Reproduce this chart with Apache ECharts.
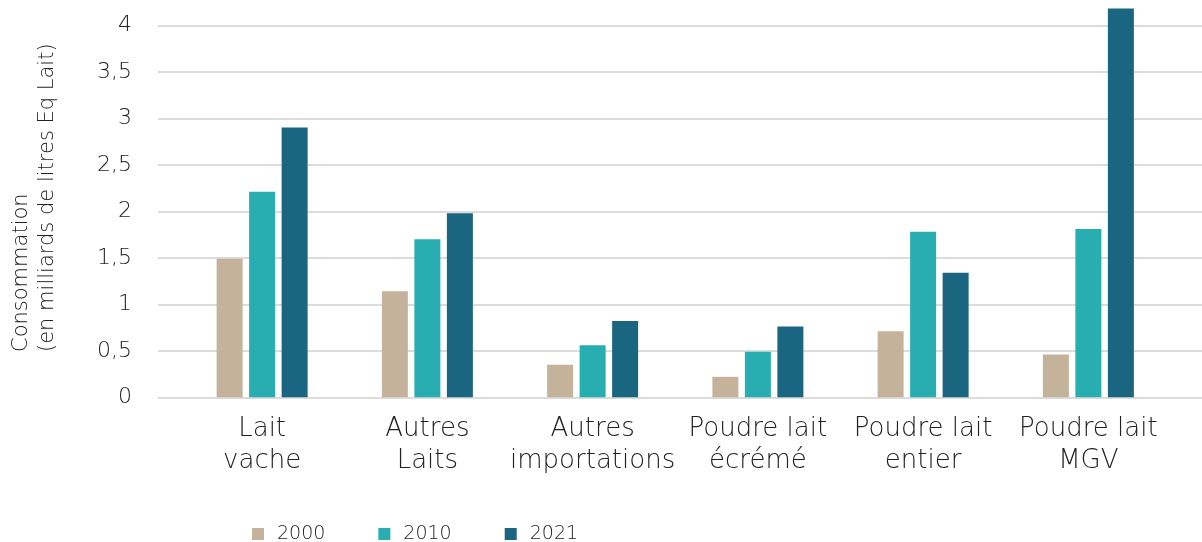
<!DOCTYPE html>
<html>
<head>
<meta charset="utf-8">
<script src="https://cdn.jsdelivr.net/npm/echarts@6/dist/echarts.min.js"></script>
<style>
  html, body { margin: 0; padding: 0; background: #fff; }
  #chart { width: 1202px; height: 542px; }
</style>
</head>
<body>
<div id="chart"></div>
<script>
// catégories et valeurs (milliards de litres Eq Lait)
const categories = ["Lait\nvache", "Autres\nLaits", "Autres\nimportations", "Poudre lait\nécrémé", "Poudre lait\nentier", "Poudre lait\nMGV"];
const years = ["2000", "2010", "2021"];
const values2000 = [1.49, 1.14, 0.35, 0.22, 0.71, 0.46];
const values2010 = [2.21, 1.70, 0.56, 0.49, 1.78, 1.81];
const values2021 = [2.90, 1.98, 0.82, 0.76, 1.34, 4.18];
const colors = ["#C4B39A", "#28AEB0", "#1A6680"];

const font = "DejaVu Sans";
const weight = 200; // ExtraLight
const yMax = 4.2;

const chart = echarts.init(document.getElementById("chart"));

const option = {
  animation: false,
  color: colors,
  textStyle: { fontFamily: font },
  grid: [
    // grille des lignes horizontales (plus large que les barres)
    { left: 158, right: 0, top: 6.7, bottom: 144.7 },
    // grille des barres
    { left: 179.5, right: 31, top: 6.7, bottom: 144.7 }
  ],
  xAxis: [
    { gridIndex: 0, type: "value", show: false },
    {
      gridIndex: 1,
      type: "category",
      data: categories,
      axisLine: { show: false },
      axisTick: { show: false },
      axisLabel: {
        fontFamily: font,
        fontWeight: weight,
        fontSize: 26,
        lineHeight: 32,
        color: "#222",
        margin: 16,
        interval: 0
      }
    }
  ],
  yAxis: [
    {
      gridIndex: 0,
      type: "value",
      min: 0,
      max: yMax,
      interval: 0.5,
      axisLine: { show: false },
      axisTick: { show: false },
      splitLine: { showMaxLine: false, lineStyle: { color: "#dcdcdc", width: 2 } },
      axisLabel: {
        showMaxLabel: false,
        fontFamily: font,
        fontWeight: weight,
        fontSize: 22,
        color: "#222",
        margin: 26,
        formatter: (v) => String(v).replace(".", ",")
      }
    },
    { gridIndex: 1, type: "value", min: 0, max: yMax, show: false }
  ],
  legend: {
    data: years,
    left: 252,
    top: 524,
    padding: 0,
    itemWidth: 12,
    itemHeight: 12,
    itemGap: 53,
    icon: "rect",
    textStyle: { fontFamily: font, fontWeight: weight, fontSize: 19, lineHeight: 20, color: "#222", padding: [0, 0, 0, 8] }
  },
  graphic: [
    {
      // titre de l'axe vertical, aligné en bas
      type: "text",
      x: 35,
      y: 352,
      rotation: Math.PI / 2,
      style: {
        text: "Consommation\n(en milliards de litres Eq Lait)",
        fontFamily: font,
        fontWeight: weight,
        fontSize: 21,
        lineHeight: 26,
        fill: "#222",
        align: "left",
        verticalAlign: "middle"
      }
    }
  ],
  series: [
    { name: years[0], type: "bar", xAxisIndex: 1, yAxisIndex: 1, data: values2000, barWidth: 26, barGap: "25%" },
    { name: years[1], type: "bar", xAxisIndex: 1, yAxisIndex: 1, data: values2010, barWidth: 26, barGap: "25%" },
    { name: years[2], type: "bar", xAxisIndex: 1, yAxisIndex: 1, data: values2021, barWidth: 26, barGap: "25%" }
  ]
};

chart.setOption(option);
</script>
</body>
</html>
